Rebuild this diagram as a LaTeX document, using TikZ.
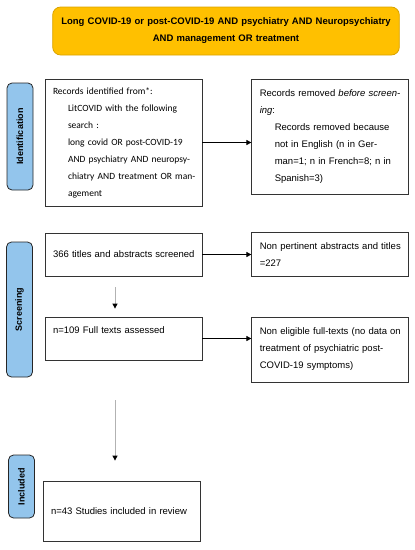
\documentclass[tikz,border=0pt]{standalone}
\usepackage{fontspec}
\setmainfont{Liberation Sans}
\newfontfamily\calibri{Carlito}
\usetikzlibrary{positioning,arrows.meta}
\definecolor{querygold}{HTML}{FFC000}
\definecolor{queryedge}{HTML}{D9A300}
\definecolor{stageblue}{HTML}{93C5EC}

\begin{document}
\begin{tikzpicture}[x=1pt,y=-1pt,node distance=49pt,
    box/.style={draw=black!80,line width=0.8pt,text width=141pt,inner xsep=8pt,
      align=left,font=\fontsize{9.5}{17}\selectfont},
    query/.style={draw=queryedge,fill=querygold,rounded corners=8pt,line width=0.8pt,
      text width=340pt,minimum height=48pt,align=center,
      font=\bfseries\fontsize{9.5}{17}\selectfont},
    stage/.style={draw=black!85,fill=stageblue,rounded corners=5pt,line width=0.8pt,
      rotate=90,minimum height=26pt,inner sep=0pt,font=\bfseries\fontsize{9}{11}\selectfont},
    flow/.style={-{Triangle[length=5pt,width=5pt]},line width=0.7pt,black},
    drop/.style={-{Triangle[length=5pt,width=5pt,color=black]},line width=0.9pt,draw=gray!60}]
  \useasboundingbox (0,0) rectangle (415,550);
  \node[query] (q) at (226,31)
    {Long COVID-19 or post-COVID-19 AND psychiatry AND Neuropsychiatry\\
     AND management OR treatment};
  \node[stage,minimum width=107pt] (ident) at (20,136.5) {Identification};
  \node[stage,minimum width=135pt] (screen) at (19.5,309.5) {Screening};
  \node[stage,minimum width=63pt] (incl) at (21.5,486.5) {Included};
  \node[box,minimum height=127pt,font=\calibri\fontsize{9.5}{17}\selectfont] (rec) at (123.5,142.5)
    {\mbox{Records identified from*:}\\
     \mbox{\hspace*{15pt}LitCOVID with the following}\\
     \mbox{\hspace*{15pt}search :}\\
     \mbox{\hspace*{15pt}long covid OR post-COVID-19}\\
     \mbox{\hspace*{15pt}AND psychiatry AND neuropsy-}\\
     \mbox{\hspace*{15pt}chiatry AND treatment OR man-}\\
     \mbox{\hspace*{15pt}agement}};
  \node[box,minimum height=115pt] (removed) [right=of rec.north east,anchor=north west]
    {\mbox{Records removed \emph{before screen-}}\\
     \emph{ing}:\\
     \mbox{\hspace*{15pt}Records removed because}\\
     \mbox{\hspace*{15pt}not in English (n in Ger-}\\
     \mbox{\hspace*{15pt}man=1; n in French=8; n in}\\
     \mbox{\hspace*{15pt}Spanish=3)}};
  \node[box,minimum height=43pt] (scr) at (123.5,254.5) {\mbox{366 titles and abstracts screened}};
  \node[box,minimum height=44pt] (pert) [right=of scr]
    {\mbox{Non pertinent abstracts and titles}\\ =227};
  \node[box,minimum height=43pt] (full) at (123.5,338.5) {n=109 Full texts assessed\\ \mbox{}};
  \node[box,minimum height=65pt] (elig) [right=of full.north east,anchor=north west]
    {\mbox{Non eligible full-texts (no data on}\\
     \mbox{treatment of psychiatric post-}\\
     \mbox{COVID-19 symptoms)}};
  \node[box,minimum height=60pt] (incbox) at (121.5,511) {\mbox{n=43 Studies included in review}};
  \path[flow]
    (rec) edge (rec -| removed.west)
    (scr) edge (scr -| pert.west)
    (full) edge (full -| elig.west);
  \draw[drop,shorten <=11pt,shorten >=8pt] ([xshift=-8.5pt]scr.south) -- ([xshift=-8.5pt]full.north);
  \draw[drop,shorten <=40pt,shorten >=20pt] ([xshift=-8.5pt]full.south) -- ([xshift=-6.5pt]incbox.north);
\end{tikzpicture}
\end{document}
